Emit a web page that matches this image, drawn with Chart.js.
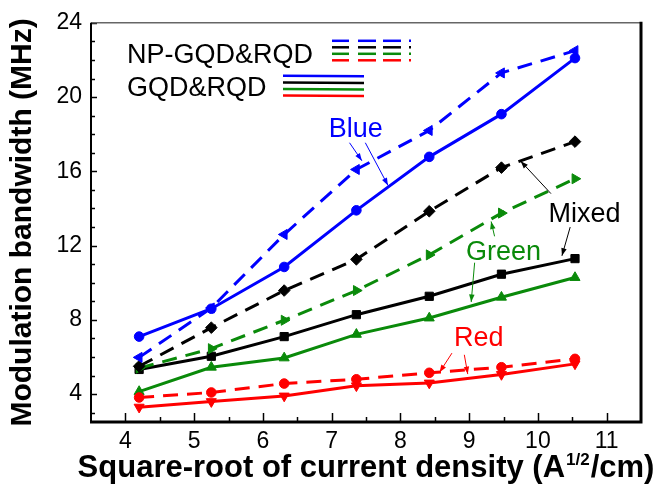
<!DOCTYPE html>
<html>
<head>
<meta charset="utf-8">
<script src="https://cdn.jsdelivr.net/npm/chart.js@4.4.1/dist/chart.umd.min.js"></script>
<style>
  html, body { margin: 0; padding: 0; background: #fff; }
  #wrap { width: 653px; height: 485px; }
</style>
</head>
<body>
<div id="wrap"><canvas id="bwChart" width="653" height="485"></canvas></div>
<script>
// sqrt(J) in A^1/2/cm
const xValues = [4.2, 5.25, 6.31, 7.36, 8.42, 9.47, 10.54];

// NP-GQD&RQD (dashed)
const npBlue  = [5.98, 8.64, 12.6, 16.1, 18.2, 21.3, 22.5];
const npMixed = [5.5, 7.58, 9.58, 11.26, 13.85, 16.2, 17.6];
const npGreen = [5.4, 6.45, 7.98, 9.58, 11.5, 13.75, 15.6];
const npRed   = [3.82, 4.09, 4.57, 4.8, 5.15, 5.45, 5.9];

// GQD&RQD (solid)
const gqdBlue  = [7.1, 8.6, 10.85, 13.9, 16.78, 19.08, 22.1];
const gqdMixed = [5.33, 6.04, 7.1, 8.28, 9.27, 10.46, 11.3];
const gqdGreen = [4.14, 5.45, 5.95, 7.22, 8.1, 9.22, 10.28];
const gqdRed   = [3.3, 3.6, 3.9, 4.45, 4.6, 5.06, 5.63];

const xTickLabels = [4, 5, 6, 7, 8, 9, 10, 11];
const yTickLabels = [4, 8, 12, 16, 20, 24];

const BLUE = "#0000ff", BLACK = "#000000", GREEN = "#0a8a0a", RED = "#ff0000";
const FONT = "'Liberation Sans', Arial, sans-serif";

const toPoints = ys => ys.map((y, i) => ({x: xValues[i], y}));

function series(label, ys, color, dashed, style, rot) {
    return {
        label,
        data: toPoints(ys),
        showLine: true,
        borderColor: color,
        backgroundColor: color,
        borderWidth: 3,
        borderDash: dashed ? [15, 9] : [],
        pointStyle: style,
        pointRotation: rot || 0,
        pointRadius: style === "circle" ? 4.8 : 5.8,
        pointBackgroundColor: color,
        pointBorderColor: color,
        pointBorderWidth: 1
    };
}

// annotation labels and arrows, in data units
const notes = [
    {text: "Blue", color: BLUE, x: 7.35, y: 18.25,
     arrows: [[7.26, 17.54, 7.44, 16.57], [7.49, 17.54, 7.82, 15.24]]},
    {text: "Mixed", color: BLACK, x: 10.68, y: 13.65,
     arrows: [[10.19, 14.8, 9.75, 16.55], [10.47, 13.0, 10.35, 11.45]]},
    {text: "Green", color: GREEN, x: 9.5, y: 11.6,
     arrows: [[9.37, 12.5, 9.32, 13.3], [9.08, 11.08, 9.03, 8.96]]},
    {text: "Red", color: RED, x: 9.14, y: 7.0,
     arrows: [[8.75, 6.21, 8.57, 5.18], [8.93, 6.12, 8.98, 5.08]]}
];

function arrow(ctx, x1, y1, x2, y2, color) {
    const a = Math.atan2(y2 - y1, x2 - x1);
    ctx.strokeStyle = color;
    ctx.fillStyle = color;
    ctx.lineWidth = 1;
    ctx.beginPath();
    ctx.moveTo(x1, y1);
    ctx.lineTo(x2, y2);
    ctx.stroke();
    ctx.beginPath();
    ctx.moveTo(x2, y2);
    ctx.lineTo(x2 - 8 * Math.cos(a - 0.35), y2 - 8 * Math.sin(a - 0.35));
    ctx.lineTo(x2 - 8 * Math.cos(a + 0.35), y2 - 8 * Math.sin(a + 0.35));
    ctx.closePath();
    ctx.fill();
}

const decorations = {
    id: "decorations",
    beforeDatasetsDraw(chart) {
        const {ctx, chartArea: a, scales: {x, y}} = chart;
        ctx.save();
        // inward ticks
        ctx.strokeStyle = "#000";
        ctx.lineWidth = 1.5;
        for (let v = 3; v <= 24; v++) {
            const py = Math.round(y.getPixelForValue(v)) + 0.5;
            const len = v % 4 === 0 ? 6 : 4;
            ctx.beginPath();
            ctx.moveTo(a.left, py);
            ctx.lineTo(a.left + len, py);
            ctx.stroke();
        }
        for (let v = 4; v <= 11; v += 0.5) {
            const px = Math.round(x.getPixelForValue(v)) + 0.5;
            const len = Number.isInteger(v) ? 9 : 5;
            ctx.beginPath();
            ctx.moveTo(px, a.bottom);
            ctx.lineTo(px, a.bottom - len);
            ctx.stroke();
        }
        ctx.restore();
    },
    afterDatasetsDraw(chart) {
        const {ctx, chartArea: a, scales: {x, y}} = chart;
        ctx.save();
        // frame
        ctx.strokeStyle = "#666";
        ctx.lineWidth = 1.5;
        ctx.beginPath();
        ctx.moveTo(a.left, a.top);
        ctx.lineTo(a.right, a.top);
        ctx.stroke();
        ctx.strokeStyle = "#000";
        ctx.lineWidth = 2;
        ctx.beginPath();
        ctx.moveTo(a.left, a.top);
        ctx.lineTo(a.left, a.bottom);
        ctx.stroke();
        ctx.lineWidth = 3;
        ctx.beginPath();
        ctx.moveTo(a.left - 1, a.bottom);
        ctx.lineTo(a.right, a.bottom);
        ctx.lineTo(a.right, a.top - 1);
        ctx.stroke();

        // annotations
        ctx.font = "27px " + FONT;
        ctx.textAlign = "center";
        ctx.textBaseline = "middle";
        notes.forEach(n => {
            ctx.fillStyle = n.color;
            ctx.fillText(n.text, x.getPixelForValue(n.x), y.getPixelForValue(n.y));
            n.arrows.forEach(([x1, y1, x2, y2]) => arrow(ctx,
                x.getPixelForValue(x1), y.getPixelForValue(y1),
                x.getPixelForValue(x2), y.getPixelForValue(y2), n.color));
        });

        // legend
        ctx.fillStyle = "#000";
        ctx.textAlign = "left";
        ctx.textBaseline = "alphabetic";
        ctx.fillText("NP-GQD&RQD", a.left + 36, a.top + 40);
        ctx.fillText("GQD&RQD", a.left + 36, a.top + 73);
        const cols = [BLUE, BLACK, GREEN, RED];
        ctx.lineWidth = 2.5;
        cols.forEach((c, i) => {
            ctx.strokeStyle = c;
            const ny = a.top + 18 + i * 6.5;
            [[332, 349], [358, 376], [383, 401], [409, 411]].forEach(([s, e]) => {
                ctx.beginPath();
                ctx.moveTo(s, ny);
                ctx.lineTo(e, ny);
                ctx.stroke();
            });
            const gy = a.top + 53 + i * 6.6;
            ctx.beginPath();
            ctx.moveTo(283, gy);
            ctx.lineTo(364, gy + 0.5);
            ctx.stroke();
        });

        // x axis title with superscript
        const cx = (a.left + a.right) / 2 - 1;
        const ty = 477;
        const big = "bold 31px " + FONT, small = "bold 17px " + FONT;
        const p1 = "Square-root of current density (A", p2 = "1/2", p3 = "/cm)";
        ctx.font = big;
        const w1 = ctx.measureText(p1).width, w3 = ctx.measureText(p3).width;
        ctx.font = small;
        const w2 = ctx.measureText(p2).width;
        let sx = cx - (w1 + w2 + w3) / 2;
        ctx.fillStyle = "#000";
        ctx.font = big;
        ctx.fillText(p1, sx, ty);
        ctx.font = small;
        ctx.fillText(p2, sx + w1 + 1, ty - 12);
        ctx.font = big;
        ctx.fillText(p3, sx + w1 + w2 + 2, ty);
        ctx.restore();
    }
};

new Chart(document.getElementById("bwChart"), {
    type: "scatter",
    data: {
        datasets: [
            series("NP Blue", npBlue, BLUE, true, "triangle", 30),
            series("NP Mixed", npMixed, BLACK, true, "rectRot"),
            series("NP Green", npGreen, GREEN, true, "triangle", 90),
            series("NP Red", npRed, RED, true, "circle"),
            series("Blue", gqdBlue, BLUE, false, "circle"),
            series("Mixed", gqdMixed, BLACK, false, "rect"),
            series("Green", gqdGreen, GREEN, false, "triangle"),
            series("Red", gqdRed, RED, false, "triangle", 180)
        ]
    },
    options: {
        responsive: false,
        animation: false,
        layout: {padding: {top: 17, right: 12, left: 0, bottom: 0}},
        plugins: {legend: {display: false}, tooltip: {enabled: false}},
        scales: {
            x: {
                type: "linear",
                min: 3.5,
                max: 11.5,
                afterBuildTicks: s => { s.ticks = xTickLabels.map(v => ({value: v})); },
                afterFit: s => { s.height = 63; },
                grid: {display: false, drawTicks: false},
                border: {display: false},
                ticks: {color: "#000", padding: 6, font: {family: FONT, size: 23}}
            },
            y: {
                min: 2.5,
                max: 24,
                afterBuildTicks: s => { s.ticks = yTickLabels.map(v => ({value: v})); },
                afterFit: s => { s.width = 91; },
                grid: {display: false, drawTicks: false},
                border: {display: false},
                ticks: {color: "#000", padding: 9, font: {family: FONT, size: 23}},
                title: {
                    display: true,
                    text: "Modulation bandwidth (MHz)",
                    color: "#000",
                    padding: {top: 5, bottom: 0},
                    font: {family: FONT, size: 30, weight: "bold"}
                }
            }
        }
    },
    plugins: [decorations]
});
</script>
</body>
</html>
